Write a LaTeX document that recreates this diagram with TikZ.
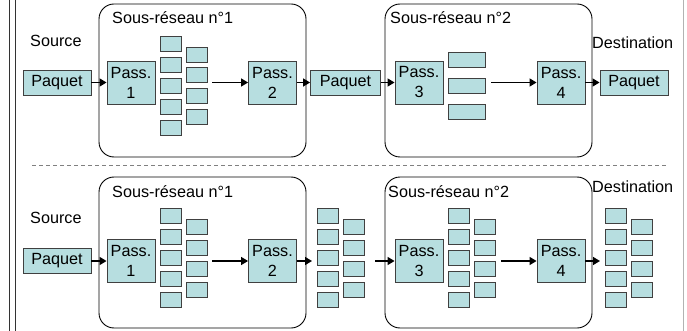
\documentclass[tikz,border=0pt]{standalone}
\usepackage{fontspec}
\setmainfont{Liberation Sans}
\usetikzlibrary{arrows.meta}
\definecolor{paqfill}{RGB}{183,222,224}

\begin{document}
\begin{tikzpicture}[x=1pt, y=-1pt,
    every node/.style={font=\fontsize{16.2}{20}\selectfont, inner sep=0pt},
    boite/.style={draw=black!75, fill=paqfill, line width=0.9pt},
    paquet/.style={boite, minimum width=68pt, minimum height=25pt},
    passerelle/.style={boite, minimum width=48pt, minimum height=43pt, align=center},
    pkt/.style={boite, minimum width=21pt, minimum height=15pt},
    reseau/.style={draw=black, line width=0.9pt, rounded corners=15pt},
    fleche/.style={line width=1.5pt, -{Triangle[length=7pt,width=8pt]}}]
    \useasboundingbox (0,0) rectangle (687,331);
    % cadre et separation
    \draw[black!80, line width=1pt] (9.5,0) -- (9.5,331) (15,0) -- (15,331);
    \draw[gray!60, line width=1pt] (683,0) -- (683,331);
    \draw[gray, dash pattern=on 4pt off 3pt, line width=0.9pt] (32,165) -- (668,165);
    % sous-reseaux
    \draw[reseau] (99,4) rectangle (306,157);
    \draw[reseau] (385,4) rectangle (592,157);
    \draw[reseau] (99,177) rectangle (306,328);
    \draw[reseau] (385,177) rectangle (592,328);
    \node[anchor=west] (src1) at (30,41) {Source};
    \node[anchor=west] (sr1) at (112,18) {Sous-réseau n°1};
    \node[anchor=west] (sr2) at (390,18) {Sous-réseau n°2};
    \node[anchor=west] (dst1) at (592,43) {Destination};
    \node[anchor=west] (src2) at (30,218) {Source};
    \node[anchor=west] (sr3) at (112,192) {Sous-réseau n°1};
    \node[anchor=west] (sr4) at (388,192) {Sous-réseau n°2};
    \node[anchor=west] (dst2) at (592,187) {Destination};
    % commutation de messages
    \node[paquet] (paq1) at (57,82.5) {Paquet};
    \node[passerelle] (pass1) at (131,82.5) {Pass.\\1};
    \node[passerelle] (pass2) at (272.5,82.5) {Pass.\\2};
    \node[paquet, minimum width=70pt] (paq2) at (345.5,82.5) {Paquet};
    \node[passerelle] (pass3) at (419,82.5) {Pass.\\3};
    \node[passerelle] (pass4) at (561,82.5) {Pass.\\4};
    \node[paquet] (paq3) at (634,82.5) {Paquet};
    \foreach \i in {0,...,4} \node[pkt] (fa\i) at (170.5,43.5+21*\i) {};
    \foreach \i in {0,...,3} \node[pkt] (fb\i) at (196.5,54.5+20.7*\i) {};
    \foreach \i in {0,...,2} \node[pkt, minimum width=37pt] (fc\i) at (466.5,59.5+26*\i) {};
    \coordinate (d1) at (212,82.5);
    \coordinate (d2) at (491,82.5);
    \draw[fleche] (paq1) -- (pass1);
    \draw[fleche] (d1) -- (pass2);
    \draw[fleche] (pass2) -- (paq2);
    \draw[fleche] (paq2) -- (pass3);
    \draw[fleche] (d2) -- (pass4);
    \draw[fleche] (pass4) -- (paq3);
    % commutation de paquets
    \node[paquet] (paq4) at (57,261) {Paquet};
    \node[passerelle] (pass5) at (131,261) {Pass.\\1};
    \node[passerelle] (pass6) at (272.5,261) {Pass.\\2};
    \node[passerelle] (pass7) at (419,261) {Pass.\\3};
    \node[passerelle] (pass8) at (561,261) {Pass.\\4};
    \foreach \gx/\g in {160/a,317/b,448/c,605/d} {
        \foreach \i in {0,...,4} \node[pkt] (\g a\i) at (\gx+10.5,215.5+21*\i) {};
        \foreach \i in {0,...,3} \node[pkt] (\g b\i) at (\gx+36.5,226.5+21*\i) {};
    }
    \coordinate (d3) at (212,261);
    \coordinate (d4) at (312,261);
    \coordinate (d5) at (375,261);
    \coordinate (d6) at (501,261);
    \coordinate (d7) at (600,261);
    \draw[fleche] (paq4) -- (pass5);
    \draw[fleche] (d3) -- (pass6);
    \draw[fleche] (pass6) -- (d4);
    \draw[fleche] (d5) -- (pass7);
    \draw[fleche] (d6) -- (pass8);
    \draw[fleche] (pass8) -- (d7);
\end{tikzpicture}
\end{document}
